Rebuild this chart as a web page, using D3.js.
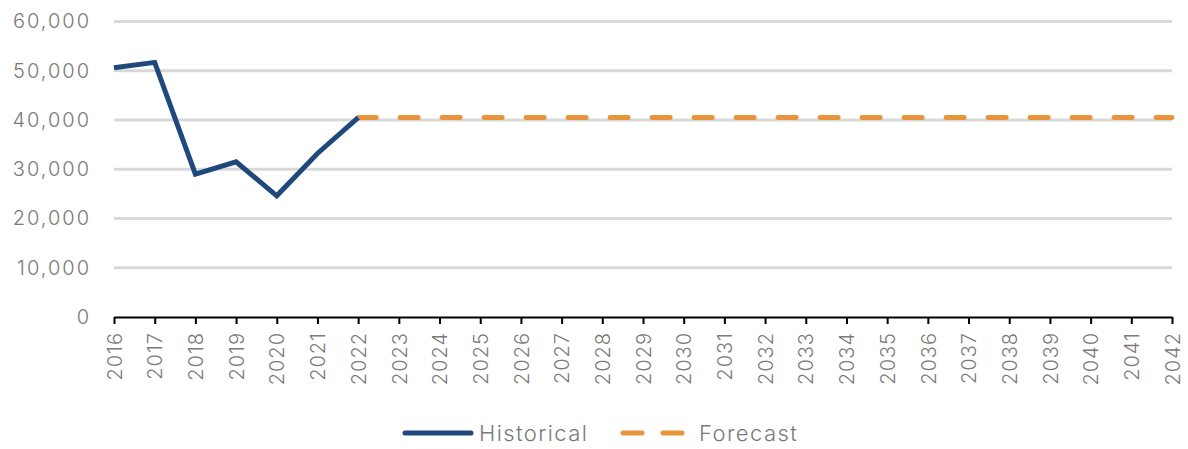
<!DOCTYPE html>
<html lang="en">
<head>
    <meta charset="UTF-8">
    <title>Historical and Forecast</title>
    <style>
        body { margin: 0; background: #fff; }
        text { font-family: Inter, "Open Sans", sans-serif; font-weight: 300; fill: #7a7a7a; }
    </style>
</head>
<body>
    <div id="chart"></div>

    <script src="https://d3js.org/d3.v7.min.js"></script>
    <script>
        const w = 1188;
        const h = 449;
        const padL = 114, padR = 16, padT = 21.5, padB = 132;

        // data
        const years = d3.range(2016, 2043);
        const histYears = [2016, 2017, 2018, 2019, 2020, 2021, 2022];
        const histValues = [50600, 51700, 29000, 31500, 24600, 33200, 40500];
        const forecastYears = d3.range(2022, 2043);
        const forecastValues = [40500, 40500, 40500, 40500, 40500, 40500, 40500,
                                40500, 40500, 40500, 40500, 40500, 40500, 40500,
                                40500, 40500, 40500, 40500, 40500, 40500, 40500];
        const yTicks = [0, 10000, 20000, 30000, 40000, 50000, 60000];
        const seriesNames = ['Historical', 'Forecast'];

        const histColor = '#1f497d';
        const foreColor = '#e8943a';

        const svg = d3.select('#chart')
            .append('svg')
            .attr('width', w)
            .attr('height', h);

        const xScale = d3.scaleLinear()
            .domain([2016, 2042])
            .range([padL, w - padR]);
        const yScale = d3.scaleLinear()
            .domain([0, 60000])
            .range([h - padB, padT]);

        // gridlines
        svg.append('g')
            .selectAll('line')
            .data(yTicks.filter(d => d > 0))
            .enter()
            .append('line')
            .attr('x1', padL)
            .attr('x2', w - padR)
            .attr('y1', d => yScale(d))
            .attr('y2', d => yScale(d))
            .attr('stroke', '#d9d9d9')
            .attr('stroke-width', 3);

        // y axis labels
        const yAxis = d3.axisLeft(yScale)
            .tickValues(yTicks)
            .tickFormat(d3.format(','))
            .tickSize(0)
            .tickPadding(23);
        const gy = svg.append('g')
            .attr('transform', `translate(${padL},0)`)
            .call(yAxis);
        gy.select('.domain').remove();
        gy.selectAll('text')
            .style('font-size', '20px')
            .style('font-family', 'Inter, sans-serif')
            .style('letter-spacing', '2px')
            .attr('fill', '#7a7a7a');

        // x axis
        const xAxis = d3.axisBottom(xScale)
            .tickValues(years)
            .tickFormat(d => d)
            .tickSize(7)
            .tickSizeOuter(0);
        const gx = svg.append('g')
            .attr('transform', `translate(0,${h - padB})`)
            .call(xAxis);
        gx.select('.domain').attr('stroke', '#000').attr('stroke-width', 2);
        gx.selectAll('.tick line').attr('stroke', '#000').attr('stroke-width', 2);
        gx.selectAll('text')
            .style('font-size', '20px')
            .style('font-family', 'Inter, sans-serif')
            .style('letter-spacing', '1px')
            .attr('fill', '#7a7a7a')
            .attr('text-anchor', 'end')
            .attr('transform', 'rotate(-90)')
            .attr('x', -15)
            .attr('y', 0)
            .attr('dy', '0.36em');

        const line = d3.line()
            .x(d => xScale(d[0]))
            .y(d => yScale(d[1]));

        svg.append('path')
            .datum(forecastYears.map((y, i) => [y, forecastValues[i]]))
            .attr('d', line)
            .attr('fill', 'none')
            .attr('stroke', foreColor)
            .attr('stroke-width', 5)
            .attr('stroke-linecap', 'round')
            .attr('stroke-dasharray', '18,24');

        svg.append('path')
            .datum(histYears.map((y, i) => [y, histValues[i]]))
            .attr('d', line)
            .attr('fill', 'none')
            .attr('stroke', histColor)
            .attr('stroke-width', 5)
            .attr('stroke-linejoin', 'miter');

        // legend
        const legY = 433;
        const legend = svg.append('g');
        legend.append('line')
            .attr('x1', 405).attr('x2', 471)
            .attr('y1', legY).attr('y2', legY)
            .attr('stroke', histColor)
            .attr('stroke-width', 5)
            .attr('stroke-linecap', 'round');
        legend.append('text')
            .attr('x', 479).attr('y', legY)
            .attr('dy', '0.36em')
            .style('font-size', '22px')
            .style('letter-spacing', '1.4px')
            .text(seriesNames[0]);
        legend.append('line')
            .attr('x1', 623).attr('x2', 686)
            .attr('y1', legY).attr('y2', legY)
            .attr('stroke', foreColor)
            .attr('stroke-width', 5)
            .attr('stroke-linecap', 'round')
            .attr('stroke-dasharray', '19,21');
        legend.append('text')
            .attr('x', 699).attr('y', legY)
            .attr('dy', '0.36em')
            .style('font-size', '22px')
            .style('letter-spacing', '1.4px')
            .text(seriesNames[1]);
    </script>
</body>
</html>
